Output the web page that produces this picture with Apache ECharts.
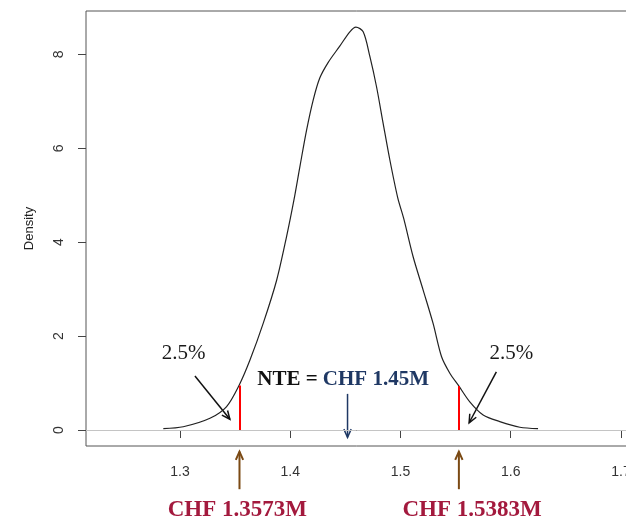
<!DOCTYPE html>
<html>
<head>
<meta charset="utf-8">
<script src="https://cdn.jsdelivr.net/npm/echarts@6/dist/echarts.min.js"></script>
<style>
    html, body { margin: 0; padding: 0; background: #fff; }
    #main { width: 626px; height: 523px; }
</style>
</head>
<body>
<div id="main"></div>
<script>
// density curve
var densityX = [1.2849, 1.3030, 1.3272, 1.3423, 1.3538, 1.3635, 1.3755, 1.3877, 1.3967, 1.4034,
    1.4088, 1.4149, 1.4209, 1.4269, 1.4345, 1.4451, 1.4541, 1.4596, 1.4662, 1.4723,
    1.4783, 1.4843, 1.4904, 1.4975, 1.5030, 1.5115, 1.5206, 1.5296, 1.5373, 1.5448,
    1.5529, 1.5629, 1.5750, 1.5901, 1.6083, 1.6248];
var densityY = [0.03, 0.07, 0.25, 0.50, 0.96, 1.49, 2.27, 3.19, 4.12, 4.90,
    5.61, 6.39, 7.03, 7.50, 7.83, 8.18, 8.48, 8.58, 8.48, 7.95,
    7.31, 6.53, 5.75, 4.95, 4.50, 3.69, 2.98, 2.27, 1.56, 1.21,
    0.94, 0.60, 0.32, 0.18, 0.06, 0.03];

var xTicks = [1.3, 1.4, 1.5, 1.6, 1.7];
var yTicks = [0, 2, 4, 6, 8];

// 2.5% / 97.5% quantiles (red lines) and their curve height
var quantileX = [1.354, 1.553];
var quantileTop = [0.95, 0.94];
var quantileLabels = ['CHF 1.3573M', 'CHF 1.5383M'];
var tailLabel = '2.5%';
var nteX = 1.452;
var nteLabel = 'CHF 1.45M';

var myChart = echarts.init(document.getElementById('main'));

var curve = densityX.map(function (x, i) { return [x, densityY[i]]; });

var option = {
    animation: false,
    textStyle: { fontFamily: 'Liberation Sans' },
    grid: {
        left: 86, top: 11, right: -17, bottom: 77,
        containLabel: false,
        outerBoundsMode: 'none',
        show: true,
        borderColor: '#555',
        borderWidth: 1
    },
    xAxis: {
        type: 'value',
        min: 1.21478,
        max: 1.72,
        axisLine: { show: true, lineStyle: { color: '#111', width: 1 } },
        axisTick: { show: true, customValues: xTicks, length: 8, lineStyle: { color: '#444' } },
        axisLabel: {
            customValues: xTicks, margin: 19, fontSize: 14, color: '#333',
            formatter: function (v) { return v.toFixed(1); }
        },
        splitLine: { show: false }
    },
    yAxis: {
        type: 'value',
        min: -0.34,
        max: 8.923,
        name: 'Density',
        nameLocation: 'middle',
        nameGap: 50,
        nameTextStyle: { fontSize: 13, color: '#222' },
        axisLine: { show: false },
        axisTick: { show: true, customValues: yTicks, length: 8, lineStyle: { color: '#444' } },
        axisLabel: { customValues: yTicks, rotate: 90, margin: 20, fontSize: 14, color: '#333' },
        splitLine: { show: false }
    },
    series: [{
        type: 'line',
        data: curve,
        showSymbol: false,
        smooth: 0.3,
        silent: true,
        lineStyle: { color: '#222', width: 1.2 },
        markLine: {
            silent: true,
            symbol: 'none',
            label: { show: false },
            data: [
                { yAxis: 0, lineStyle: { color: '#c4c4c4', width: 1, type: 'solid' } },
                [{ coord: [quantileX[0], 0] }, { coord: [quantileX[0], quantileTop[0]] }],
                [{ coord: [quantileX[1], 0] }, { coord: [quantileX[1], quantileTop[1]] }]
            ],
            lineStyle: { color: '#ff0000', width: 2, type: 'solid' }
        }
    }]
};

myChart.setOption(option);

// annotations placed through the chart's own scales
var p = function (x, y) { return myChart.convertToPixel({ gridIndex: 0 }, [x, y]); };

function arrow(from, to, color, width) {
    var a = Math.atan2(to[1] - from[1], to[0] - from[0]);
    var h = 9, s = 0.42;
    return [
        { type: 'line', silent: true, shape: { x1: from[0], y1: from[1], x2: to[0], y2: to[1] },
          style: { stroke: color, lineWidth: width } },
        { type: 'polyline', silent: true,
          shape: { points: [
              [to[0] - h * Math.cos(a - s), to[1] - h * Math.sin(a - s)],
              to,
              [to[0] - h * Math.cos(a + s), to[1] - h * Math.sin(a + s)]
          ] },
          style: { stroke: color, lineWidth: width, fill: null } }
    ];
}

function label(pos, text, font, color) {
    return { type: 'text', silent: true, x: pos[0], y: pos[1],
        style: { text: text, font: font, fill: color, align: 'center', verticalAlign: 'middle' } };
}

var serif = '"Liberation Serif", "DejaVu Serif", serif';
var brown = '#7b4a14', crimson = '#a3193d', navy = '#1f3864';

var els = [];
els = els.concat(arrow(p(quantileX[0] - 0.0404, 1.15), p(quantileX[0] - 0.0087, 0.23), '#111', 1.5));
els = els.concat(arrow(p(quantileX[1] + 0.034, 1.24), p(quantileX[1] + 0.0093, 0.155), '#111', 1.5));
els = els.concat(arrow(p(nteX, 0.77), p(nteX, -0.155), navy, 1.5));
els = els.concat(arrow(p(quantileX[0], -1.26), p(quantileX[0], -0.46), brown, 2));
els = els.concat(arrow(p(quantileX[1], -1.26), p(quantileX[1], -0.46), brown, 2));

els.push(label(p(quantileX[0] - 0.0506, 1.63), tailLabel, '21px ' + serif, '#1a1a1a'));
els.push(label(p(quantileX[1] + 0.0475, 1.63), tailLabel, '21px ' + serif, '#1a1a1a'));
els.push(label(p(quantileX[0] - 0.002, -1.70), quantileLabels[0], 'bold 23px ' + serif, crimson));
els.push(label(p(quantileX[1] + 0.012, -1.70), quantileLabels[1], 'bold 23px ' + serif, crimson));

var ntePos = p(nteX - 0.004, 1.065);
els.push({
    type: 'text', silent: true, x: ntePos[0], y: ntePos[1],
    style: {
        text: '{a|NTE = }{b|' + nteLabel + '}',
        align: 'center', verticalAlign: 'middle',
        rich: {
            a: { font: 'bold 21px ' + serif, fill: '#111' },
            b: { font: 'bold 21px ' + serif, fill: navy }
        }
    }
});

myChart.setOption({ graphic: { elements: els } });
</script>
</body>
</html>
